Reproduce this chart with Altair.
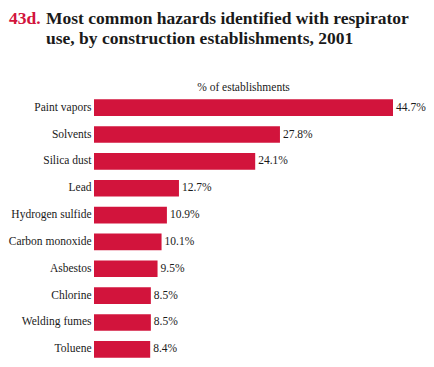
import altair as alt
import pandas as pd

hazards = ["Paint vapors", "Solvents", "Silica dust", "Lead", "Hydrogen sulfide",
           "Carbon monoxide", "Asbestos", "Chlorine", "Welding fumes", "Toluene"]
percents = [44.7, 27.8, 24.1, 12.7, 10.9, 10.1, 9.5, 8.5, 8.5, 8.4]

df = pd.DataFrame({"hazard": hazards, "pct": percents})
df["label"] = [f"{v:.1f}%" for v in percents]

FONT = "Times New Roman"
BOLD_FONT = "Liberation Serif"
RED = "#D2143C"
INK = "#1a1a1a"
W, H = 299, 261

y_enc = alt.Y("hazard:N", sort=hazards,
              scale=alt.Scale(paddingInner=0.38, paddingOuter=0.05),
              axis=alt.Axis(title=None, ticks=False, domain=False, labelPadding=3,
                            labelFont=FONT, labelFontSize=11.5, labelColor=INK))
x_enc = alt.X("pct:Q", scale=alt.Scale(domain=[0, 44.7], nice=False, zero=True), axis=None)

bars = alt.Chart(df).mark_bar(color=RED).encode(x=x_enc, y=y_enc)
vals = alt.Chart(df).mark_text(align="left", baseline="middle", dx=3, font=FONT,
                               fontSize=11.5, color=INK).encode(
    x=x_enc, y=y_enc, text="label:N")

one = pd.DataFrame({"t": [""]})
num = alt.Chart(one).mark_text(text="43d.", align="left", baseline="alphabetic", font=BOLD_FONT,
                               fontSize=17.5, fontWeight="bold", color=RED).encode(
    x=alt.value(-85), y=alt.value(-74))
t1 = alt.Chart(one).mark_text(text="Most common hazards identified with respirator",
                              align="left", baseline="alphabetic", font=BOLD_FONT,
                              fontSize=17.5, fontWeight="bold", color=INK).encode(
    x=alt.value(-48), y=alt.value(-74))
t2 = alt.Chart(one).mark_text(text="use, by construction establishments, 2001",
                              align="left", baseline="alphabetic", font=BOLD_FONT,
                              fontSize=17.5, fontWeight="bold", color=INK).encode(
    x=alt.value(-48), y=alt.value(-54))
axt = alt.Chart(one).mark_text(text="% of establishments", align="center",
                               baseline="alphabetic", font=FONT, fontSize=11.5,
                               color=INK).encode(
    x=alt.value(W / 2), y=alt.value(-7))

chart = alt.layer(bars, vals, num, t1, t2, axt).properties(
    width=W, height=H,
    background="white",
    autosize=alt.AutoSizeParams(type="none"),
    padding={"left": 86, "top": 90, "right": 33, "bottom": 0},
).configure_view(stroke=None)

chart.save("out.html", embed_options={"renderer": "svg", "actions": False})
